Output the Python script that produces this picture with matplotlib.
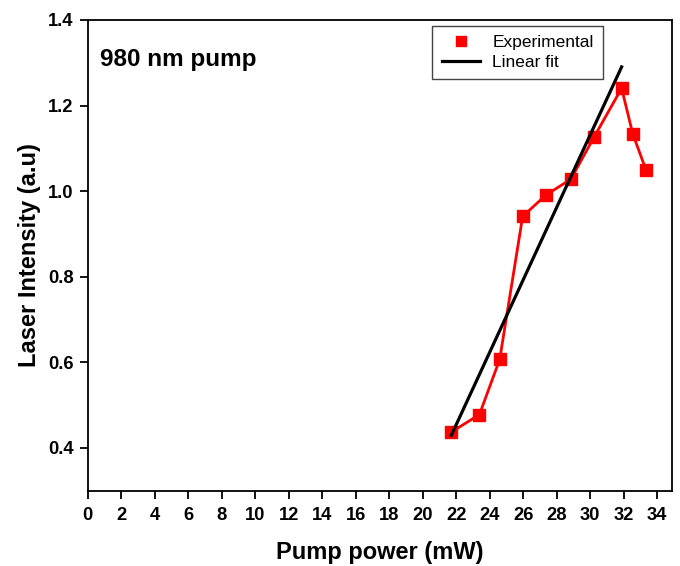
# Laser intensity vs pump power, 980 nm pump
import numpy as np
import matplotlib.pyplot as plt
from matplotlib.lines import Line2D

plt.rcParams['font.family'] = ['Liberation Sans', 'DejaVu Sans']

pump_power = [21.71, 23.39, 24.6, 25.97, 27.36, 28.85, 30.25, 31.88, 32.54, 33.33]
intensity = [0.437, 0.478, 0.607, 0.941, 0.991, 1.028, 1.1275, 1.2405, 1.1345, 1.05]
n_fit = 8  # linear fit uses the rising part only

x_ticks = list(range(0, 35, 2))
y_ticks = [0.4, 0.6, 0.8, 1.0, 1.2, 1.4]

# fit
coef = np.polyfit(pump_power[:n_fit], intensity[:n_fit], 1)
x_fit = np.array([pump_power[0], pump_power[n_fit - 1]])
y_fit = np.polyval(coef, x_fit)

fig = plt.figure(figsize=(6.8, 5.66), dpi=100)
ax = fig.add_axes([0.129, 0.133, 0.8588, 0.8317])

ax.plot(pump_power, intensity, color='red', lw=2.0, zorder=2)
ax.plot(pump_power, intensity, 's', color='red', ms=8.8, zorder=3)
ax.plot(x_fit, y_fit, color='black', lw=2.3, zorder=4)

ax.set_xlim(0, 34.87)
ax.set_ylim(0.3, 1.4)
ax.set_xticks(x_ticks)
ax.set_yticks(y_ticks)
ax.set_yticklabels(['%.1f' % v for v in y_ticks])

ax.tick_params(axis='both', direction='out', length=6, width=1.3,
               labelsize=13.2)
ax.tick_params(axis='x', pad=6)
ax.tick_params(axis='y', pad=4)
for lab in ax.get_xticklabels() + ax.get_yticklabels():
    lab.set_fontweight('bold')
for sp in ax.spines.values():
    sp.set_linewidth(1.3)

ax.set_xlabel('Pump power (mW)', fontsize=17, fontweight='bold', labelpad=12)
ax.set_ylabel('Laser Intensity (a.u)', fontsize=17, fontweight='bold', labelpad=5)

ax.text(0.021, 0.915, '980 nm pump', transform=ax.transAxes,
        fontsize=17.5, fontweight='bold', va='center', ha='left')

handles = [Line2D([], [], color='red', marker='s', ls='none', ms=6.5),
           Line2D([], [], color='black', lw=2.3)]
leg = ax.legend(handles, ['Experimental', 'Linear fit'], loc='upper left',
                bbox_to_anchor=(0.59, 0.988), fontsize=12.5, fancybox=False,
                edgecolor='#444444', framealpha=1, handlelength=2.2,
                borderpad=0.55, labelspacing=0.25, handletextpad=0.7,
                borderaxespad=0)
leg.get_frame().set_linewidth(1.0)

fig.savefig('out.png', dpi=100)
